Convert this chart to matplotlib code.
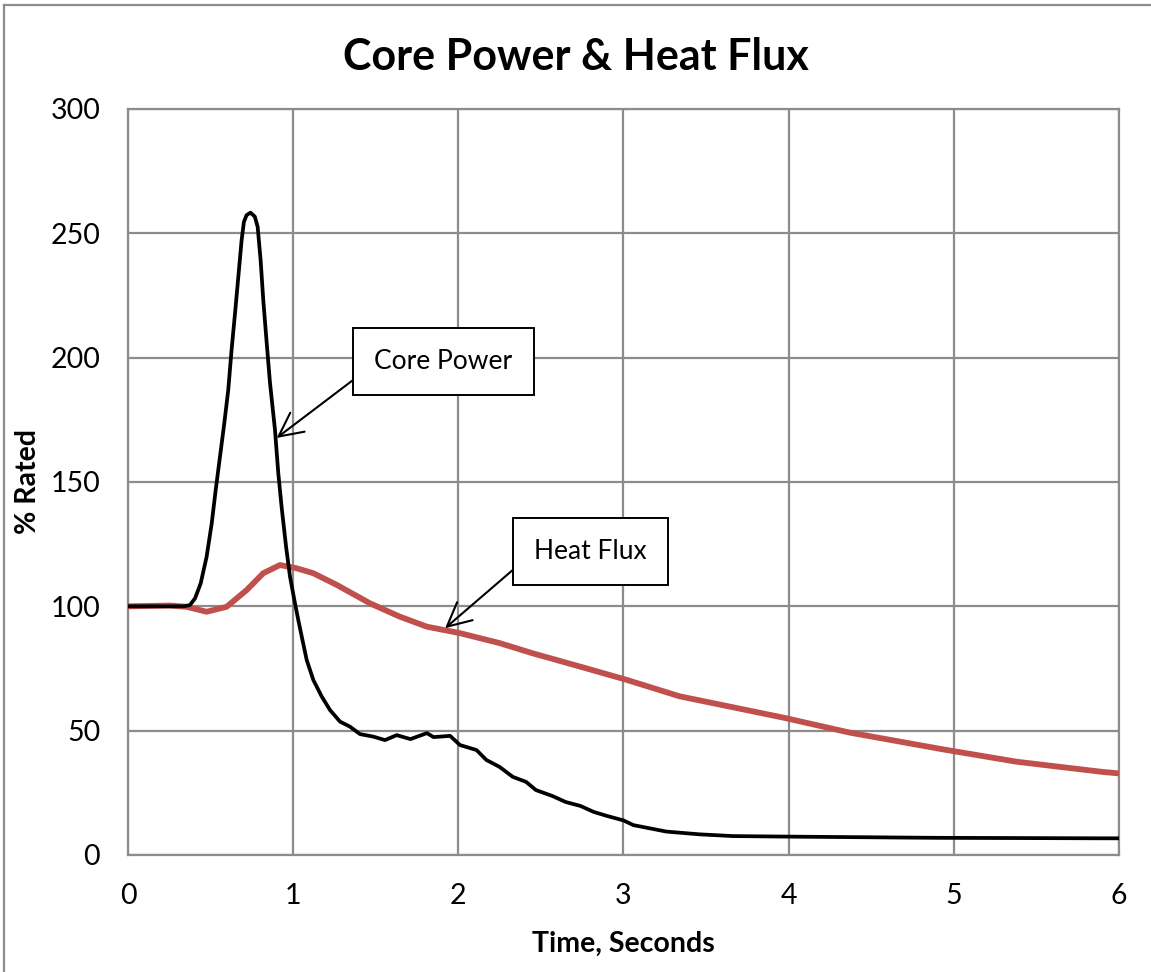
import numpy as np
import matplotlib
matplotlib.use("Agg")
import matplotlib.pyplot as plt
from matplotlib.lines import Line2D

plt.rcParams.update({
    "font.family": ["Lato", "DejaVu Sans"],
})

GRID_COLOR = "#8c8c8c"
FLUX_COLOR = "#c0504d"

# ── Data ──────────────────────────────────────────────────────────────────────
power_t = [0.0, 0.2, 0.34, 0.375, 0.406, 0.44, 0.476, 0.507, 0.531, 0.557, 0.583,
           0.607, 0.627, 0.648, 0.668, 0.688, 0.702, 0.718, 0.742, 0.768, 0.785,
           0.803, 0.819, 0.84, 0.86, 0.89, 0.91, 0.93, 0.957, 0.981, 1.011, 1.031,
           1.052, 1.082, 1.122, 1.173, 1.223, 1.284, 1.344, 1.405, 1.485, 1.556,
           1.627, 1.71, 1.81, 1.85, 1.95, 2.01, 2.11, 2.17, 2.25, 2.33, 2.41, 2.47,
           2.57, 2.65, 2.74, 2.82, 2.90, 3.0, 3.06, 3.26, 3.46, 3.66, 3.97, 4.88,
           5.90, 6.0]
power_v = [100, 100, 100, 100.5, 103.2, 109.2, 119.9, 133.4, 146.8, 160.2, 173.6,
           187, 203, 217.8, 232.5, 247.3, 254.6, 257.3, 258.3, 256.7, 252.6,
           239.2, 223.2, 205.7, 189.7, 170.9, 153.5, 140, 124, 111.9, 101.2, 94.5,
           87.8, 78.4, 70.4, 63.7, 58.3, 53.6, 51.6, 48.6, 47.6, 46.2,
           48.2, 46.6, 49, 47.4, 47.9, 44.2, 42.2, 38.2, 35.4, 31.4, 29.4, 26.1,
           23.7, 21.3, 19.7, 17.3, 15.7, 13.9, 12, 9.4, 8.3, 7.6, 7.4, 6.9,
           6.7, 6.7]

flux_t = [0.0, 0.254, 0.355, 0.476, 0.597, 0.718, 0.819, 0.92, 1.021, 1.122, 1.264,
          1.465, 1.647, 1.81, 2.01, 2.25, 2.45, 2.74, 3.02, 3.34, 3.97, 4.37, 4.94,
          5.38, 5.90, 6.0]
flux_v = [100, 100.3, 99.8, 97.8, 99.8, 106.5, 113.3, 116.6, 115.3, 113.3, 108.6,
          101.2, 95.8, 91.8, 89.2, 85.2, 81.1, 75.7, 70.4, 63.8, 55.2, 49.2, 42.4,
          37.5, 33.4, 32.8]

x_ticks = [0, 1, 2, 3, 4, 5, 6]
y_ticks = [0, 50, 100, 150, 200, 250, 300]

# ── Figure ────────────────────────────────────────────────────────────────────
fig = plt.figure(figsize=(11.51, 9.72), dpi=100)
ax = fig.add_axes([0.1112, 0.1204, 0.8610, 0.7675])

ax.plot(flux_t, flux_v, color=FLUX_COLOR, lw=4.2, solid_joinstyle="round",
        solid_capstyle="butt", zorder=3)
ax.plot(power_t, power_v, color="black", lw=2.7, solid_joinstyle="round",
        solid_capstyle="butt", zorder=4)

ax.set_xlim(0, 6)
ax.set_ylim(0, 300)
ax.set_xticks(x_ticks)
ax.set_yticks(y_ticks)
ax.grid(True, color=GRID_COLOR, lw=1.6)
ax.set_axisbelow(True)
for s in ax.spines.values():
    s.set_color(GRID_COLOR)
    s.set_linewidth(1.6)
ax.tick_params(length=0, labelsize=20.5)
ax.tick_params(axis="x", pad=20)
ax.tick_params(axis="y", pad=20)

ax.set_xlabel("Time, Seconds", fontsize=20.5, fontweight="bold", labelpad=16)
ax.set_ylabel("% Rated", fontsize=20.5, fontweight="bold", va="center")
ax.yaxis.set_label_coords(-0.101, 0.5)
fig.suptitle("Core Power & Heat Flux", fontsize=31, fontweight="bold", y=0.962)

# ── Callouts ──────────────────────────────────────────────────────────────────
box = dict(boxstyle="square,pad=0.8", fc="white", ec="black", lw=1.4)
arrow = dict(arrowstyle="->,head_length=0.9,head_width=0.45", color="black", lw=1.5,
             shrinkA=0, shrinkB=0)
ax.annotate("Core Power", xy=(0.90, 167.7), xytext=(1.91, 198.5), fontsize=19,
            ha="center", va="center", bbox=box,
            arrowprops=dict(arrow, relpos=(0, 0.4)), zorder=6)
ax.annotate("Heat Flux", xy=(1.92, 91.2), xytext=(2.80, 122), fontsize=19,
            ha="center", va="center", bbox=box,
            arrowprops=dict(arrow, relpos=(0, 0.5)), zorder=6)

# Outer chart frame (top and left edges visible)
fig.add_artist(Line2D([4 / 1151, 4 / 1151], [0, 1 - 5 / 972], transform=fig.transFigure,
                      color=GRID_COLOR, lw=1.6))
fig.add_artist(Line2D([4 / 1151, 1], [1 - 5 / 972, 1 - 5 / 972], transform=fig.transFigure,
                      color=GRID_COLOR, lw=1.6))

fig.savefig("out.png", dpi=100)
